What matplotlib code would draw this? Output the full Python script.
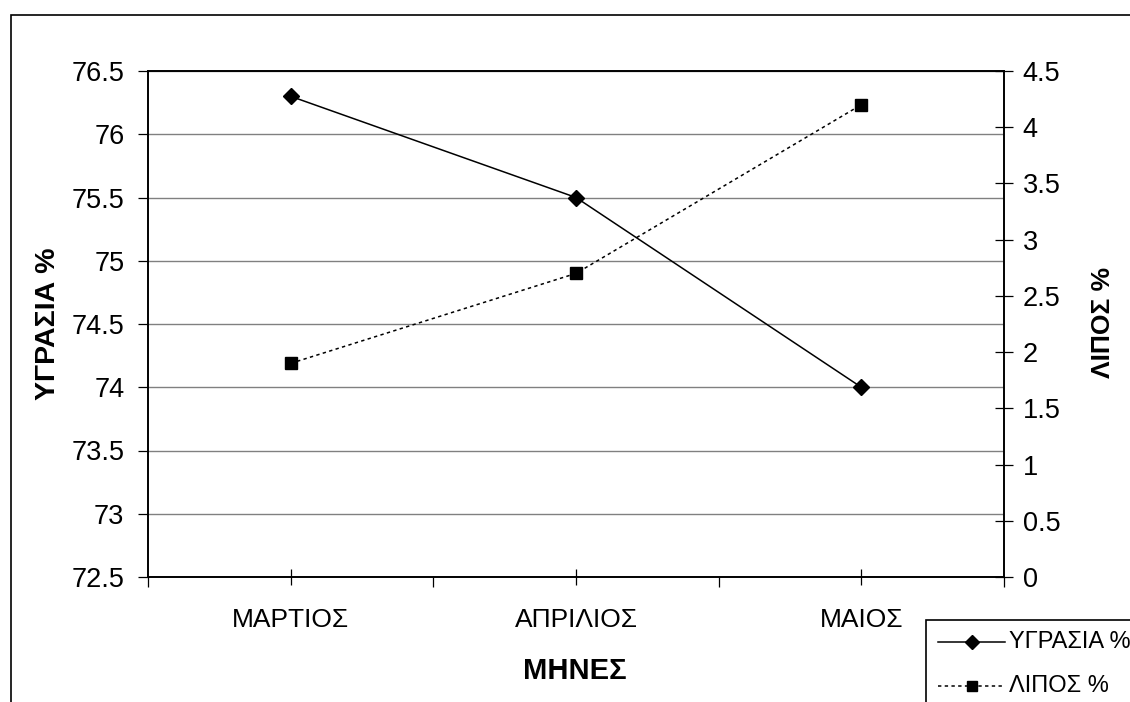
"""Υγρασία και λίπος ανά μήνα (διπλός άξονας)."""

import matplotlib
matplotlib.use("Agg")
import matplotlib.pyplot as plt
from matplotlib.lines import Line2D
from matplotlib.patches import Rectangle

months = ["ΜΑΡΤΙΟΣ", "ΑΠΡΙΛΙΟΣ", "ΜΑΙΟΣ"]
moisture = [76.3, 75.5, 74.0]
fat = [1.9, 2.7, 4.2]
moisture_ticks = [72.5, 73, 73.5, 74, 74.5, 75, 75.5, 76, 76.5]
fat_ticks = [0, 0.5, 1, 1.5, 2, 2.5, 3, 3.5, 4, 4.5]

plt.rcParams["font.family"] = ["Liberation Sans", "DejaVu Sans"]

W, H = 1130, 702
fig = plt.figure(figsize=(W / 100, H / 100), dpi=100)
ax = fig.add_axes([148 / W, 1 - 577 / H, 856 / W, 506 / H])
ax2 = ax.twinx()

x = list(range(len(months)))
dotted = (0, (2.2, 2.2))

ax.plot(x, moisture, "-", color="black", lw=1.1, marker="D", ms=8, zorder=3)
ax2.plot(x, fat, linestyle=dotted, color="black", lw=1.1, marker="s", ms=8, zorder=3)

ax.set_xlim(-0.5, len(months) - 0.5)
ax.set_ylim(moisture_ticks[0], moisture_ticks[-1])
ax2.set_ylim(fat_ticks[0], fat_ticks[-1])
ax.set_yticks(moisture_ticks)
ax.set_yticklabels([f"{v:g}" for v in moisture_ticks])
ax2.set_yticks(fat_ticks)
ax2.set_yticklabels([f"{v:g}" for v in fat_ticks])

ax.set_xticks(x)
ax.set_xticklabels(months)
ax.set_xticks([i - 0.5 for i in range(len(months) + 1)], minor=True)

ax.grid(axis="y", color="#808080", lw=1.0)
ax.set_axisbelow(True)

for a in (ax, ax2):
    for s in a.spines.values():
        s.set_linewidth(1.2)

ax.tick_params(axis="y", direction="out", length=7, width=0.9, labelsize=19.5, pad=10)
ax2.tick_params(axis="y", direction="inout", length=13, width=0.9, labelsize=19.5, pad=7)
ax.tick_params(axis="x", which="major", direction="inout", length=12, width=0.9,
               labelsize=19, pad=16)
ax.tick_params(axis="x", which="minor", direction="out", length=7, width=0.9)

fig.text(48 / W, 1 - 324 / H, "ΥΓΡΑΣΙΑ %", rotation=90, ha="center", va="center",
         fontsize=20.5, fontweight="bold")
fig.text(1103 / W, 1 - 322 / H, "ΛΙΠΟΣ %", rotation=90, ha="center", va="center",
         fontsize=19, fontweight="bold")
fig.text(575 / W, 1 - 671 / H, "ΜΗΝΕΣ", ha="center", va="center",
         fontsize=21, fontweight="bold")

# marco exterior del grafico (cortado por el borde de la imagen)
fig.add_artist(Rectangle((11 / W, -0.1), 1.2, 1.1 - 15 / H, transform=fig.transFigure,
                         fill=False, lw=1.2, edgecolor="black"))

# leyenda, tambien cortada por el borde
fig.add_artist(Rectangle((926 / W, -0.1), 0.5, 0.1 + 1 - 620 / H, transform=fig.transFigure,
                         fill=False, lw=1.2, edgecolor="black"))
legend_rows = [
    ("ΥΓΡΑΣΙΑ %", "-", "D", 642),
    ("ΛΙΠΟΣ %", dotted, "s", 686),
]
for label, ls, mk, yy in legend_rows:
    yf = 1 - yy / H
    fig.add_artist(Line2D([938 / W, 1005 / W], [yf, yf], transform=fig.transFigure,
                          color="black", lw=1.1, linestyle=ls))
    fig.add_artist(Line2D([972 / W], [yf], transform=fig.transFigure, color="black",
                          marker=mk, ms=7.5, linestyle="none"))
    fig.text(1009 / W, yf, label, ha="left", va="center", fontsize=17)

fig.savefig("out.png", dpi=100, facecolor="white")
